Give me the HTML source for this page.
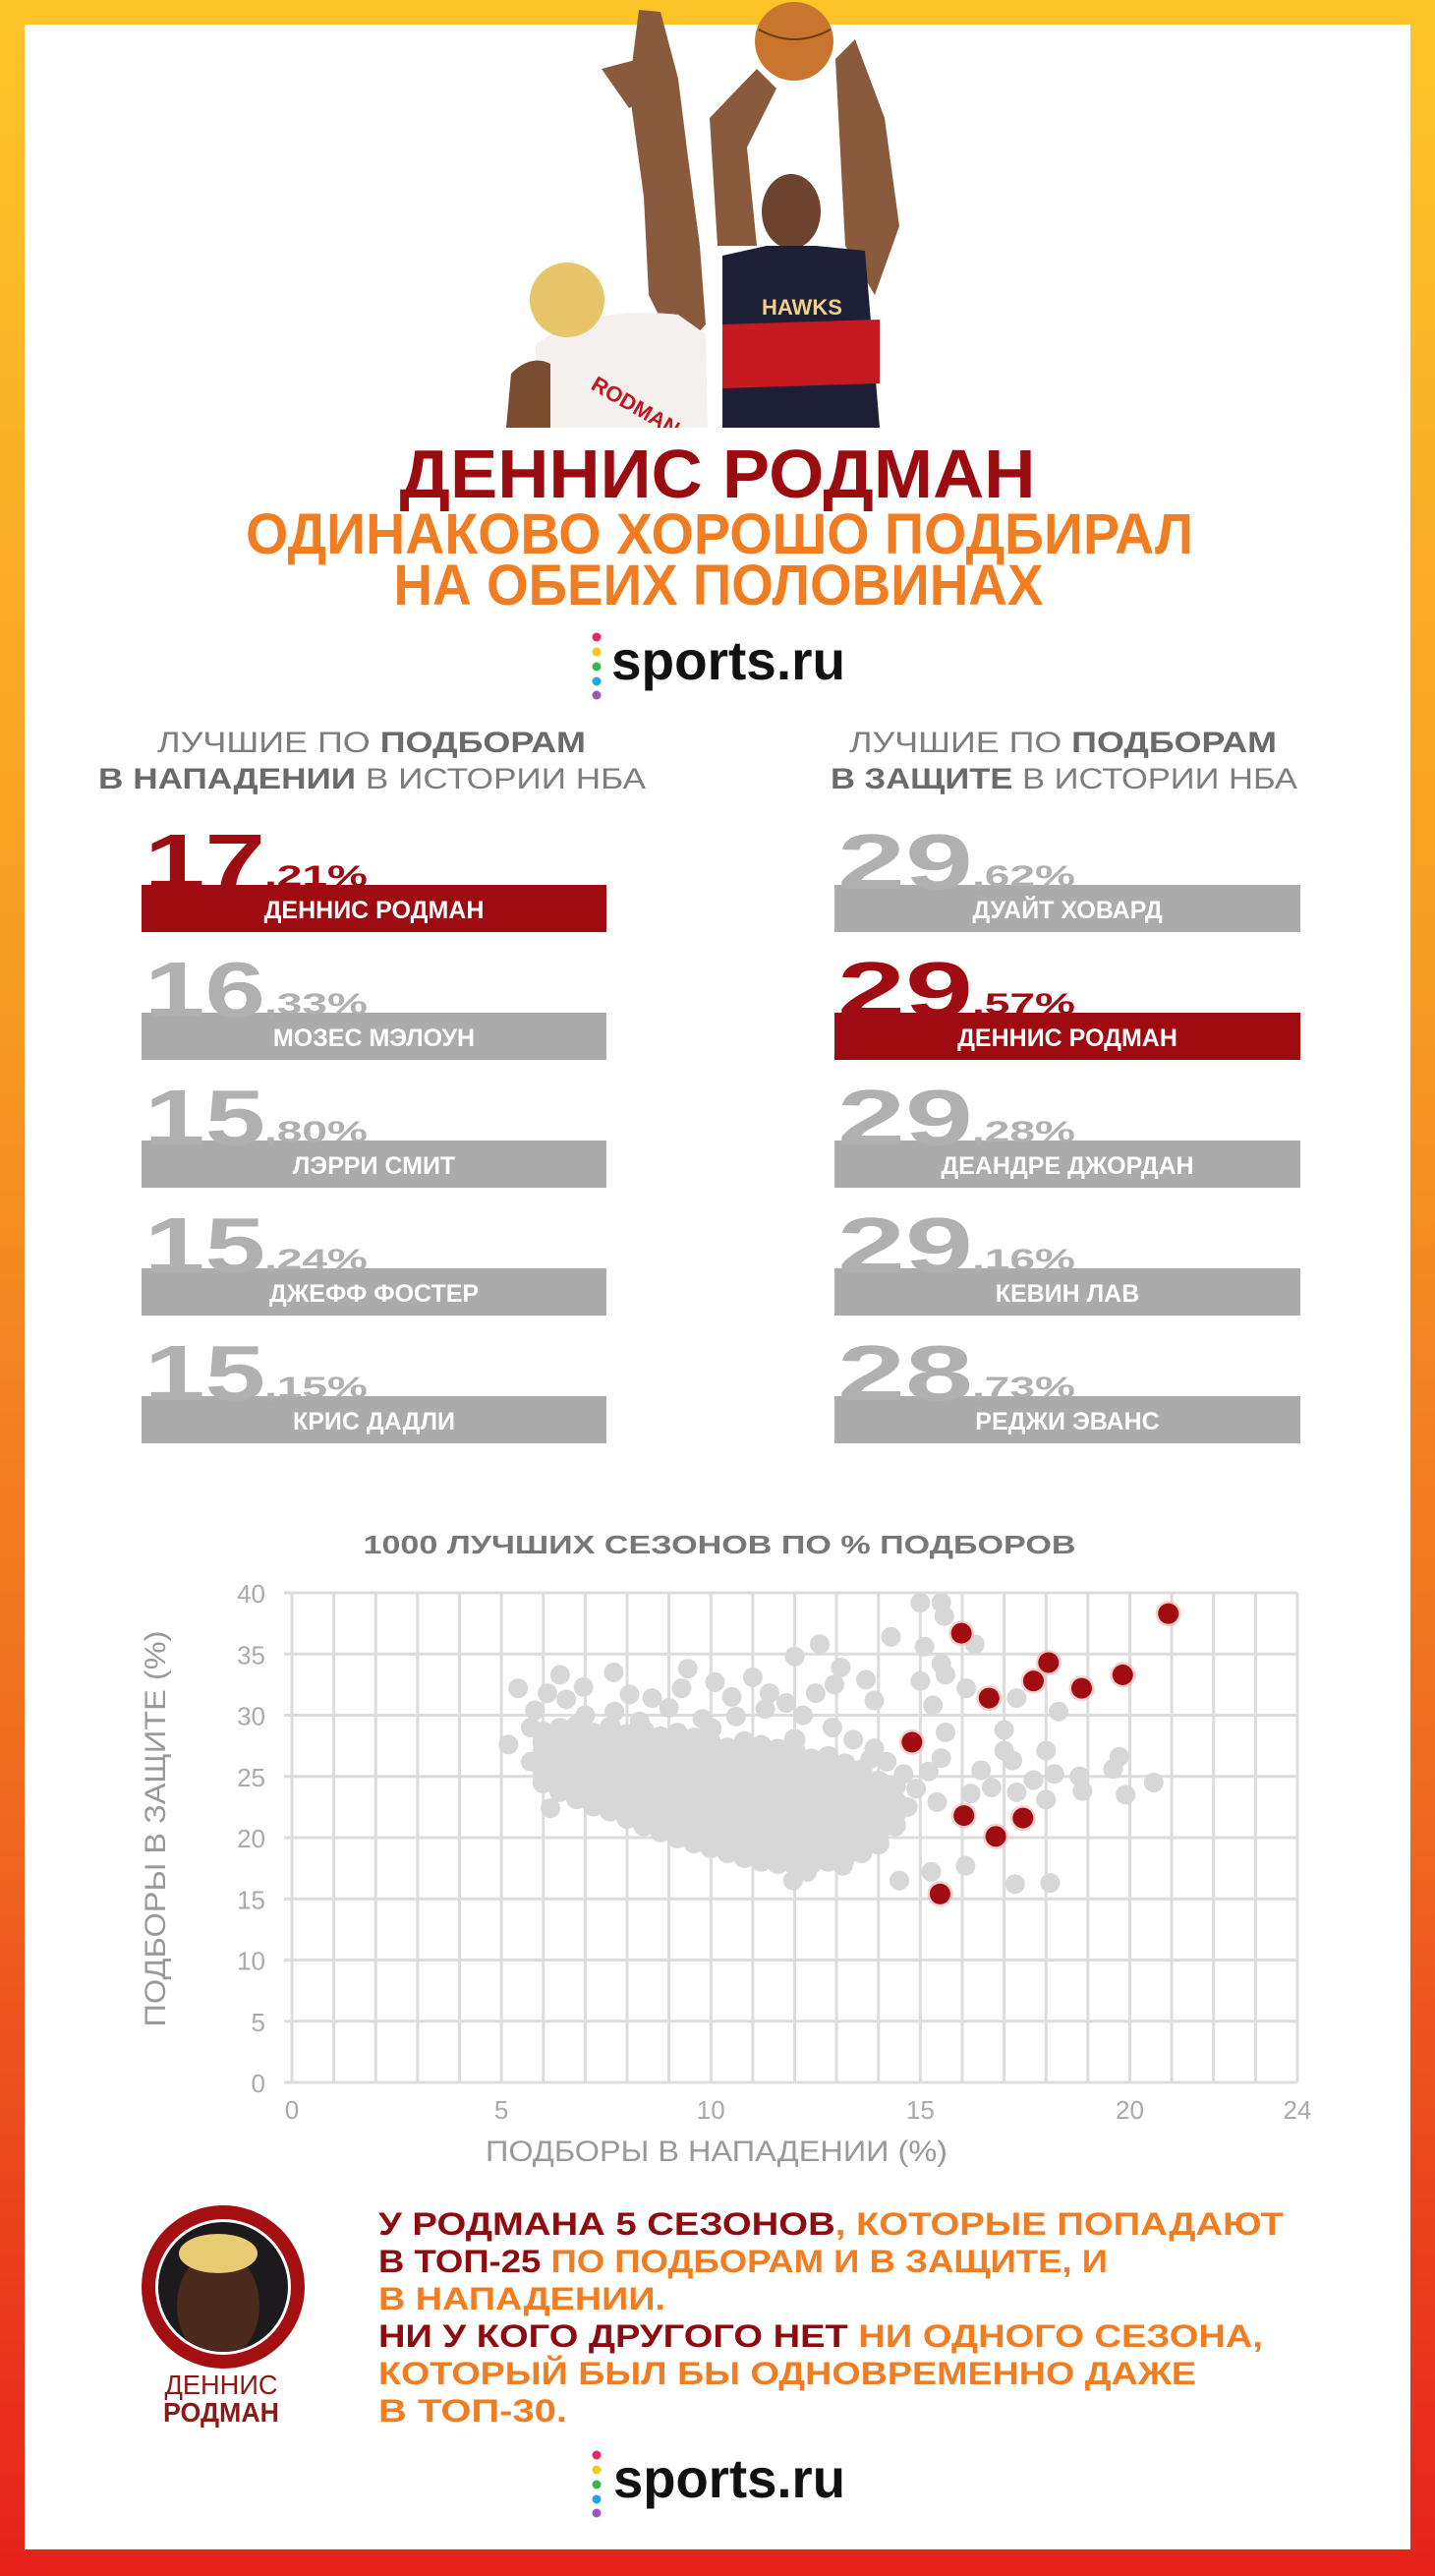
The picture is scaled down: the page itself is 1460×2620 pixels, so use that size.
<!DOCTYPE html>
<html><head><meta charset="utf-8">
<style>
html,body{margin:0;padding:0;background:#fff}
svg{display:block}
text{font-family:"Liberation Sans","DejaVu Sans",sans-serif}
</style></head>
<body>
<svg id="page" width="1460" height="2620" viewBox="0 0 1460 2620" xmlns="http://www.w3.org/2000/svg">
<defs>
<linearGradient id="frame" x1="0" y1="0" x2="0" y2="1">
<stop offset="0" stop-color="#fdc529"/><stop offset="0.35" stop-color="#f7a024"/><stop offset="0.7" stop-color="#ef6a20"/><stop offset="1" stop-color="#e6211b"/>
</linearGradient>
<clipPath id="faceClip"><circle cx="227" cy="2326" r="66"/></clipPath>
<clipPath id="photoClip"><rect x="500" y="0" width="480" height="435"/></clipPath>
</defs>
<rect x="0" y="0" width="1460" height="2620" fill="url(#frame)"/>
<rect x="25" y="25" width="1410" height="2568" fill="#fff"/>

<g clip-path="url(#photoClip)">
<path d="M650 10 L672 12 L690 80 L700 160 L712 250 L718 330 L690 360 L660 300 L655 200 L640 90 Z" fill="#8a5a3c"/>
<path d="M612 70 L650 60 L672 90 L640 110 Z" fill="#8a5a3c"/>
<path d="M545 350 Q600 310 690 320 L718 340 L720 435 L545 435 Z" fill="#f4f0ee"/>
<path d="M520 380 Q540 360 560 370 L560 435 L515 435 Z" fill="#7a4c30"/>
<circle cx="577" cy="305" r="38" fill="#e8c56a"/>
<text x="600" y="395" font-size="22" font-weight="700" fill="#c3151b" transform="rotate(30 600 395)">RODMAN</text>
<path d="M730 250 L722 120 L770 70 L790 90 L760 150 L770 250 Z" fill="#8a5a3c"/>
<path d="M850 60 L870 40 L900 120 L915 230 L890 300 L860 250 Z" fill="#8a5a3c"/>
<circle cx="808" cy="42" r="40" fill="#c8762e"/>
<path d="M772 30 Q808 50 845 30" stroke="#6a3a18" stroke-width="2" fill="none"/>
<ellipse cx="805" cy="215" rx="30" ry="38" fill="#6e4430"/>
<path d="M735 260 L780 250 L830 250 L880 255 L895 435 L735 435 Z" fill="#1d1f36"/>
<path d="M735 330 L895 325 L895 390 L735 395 Z" fill="#c41a20"/>
<text x="775" y="320" font-size="22" font-weight="700" fill="#f2d08a" font-family="Liberation Serif">HAWKS</text>
</g>

<text x="730" y="506" text-anchor="middle" font-size="70" font-weight="700" fill="#9b0c10" textLength="647" lengthAdjust="spacingAndGlyphs">ДЕННИС РОДМАН</text>
<text x="732" y="563" text-anchor="middle" font-size="58" font-weight="700" fill="#f07d22" textLength="964" lengthAdjust="spacingAndGlyphs">ОДИНАКОВО ХОРОШО ПОДБИРАЛ</text>
<text x="731" y="615" text-anchor="middle" font-size="58" font-weight="700" fill="#f07d22" textLength="661" lengthAdjust="spacingAndGlyphs">НА ОБЕИХ ПОЛОВИНАХ</text>

<g>
<circle cx="607" cy="648" r="4.5" fill="#e8246b"/><circle cx="607" cy="663" r="4.5" fill="#f7c81e"/><circle cx="607" cy="678" r="4.5" fill="#3bb54a"/><circle cx="607" cy="693" r="4.5" fill="#1ea7e1"/><circle cx="607" cy="707" r="4.5" fill="#9b59b6"/>
<text x="622" y="691" font-size="56" font-weight="700" fill="#111" textLength="238" lengthAdjust="spacingAndGlyphs">sports.ru</text>
</g>

<g font-size="30" fill="#7d7d7d">
<text x="160" y="765" textLength="436" lengthAdjust="spacingAndGlyphs">ЛУЧШИЕ ПО <tspan font-weight="700" fill="#6a6a6a">ПОДБОРАМ</tspan></text>
<text x="100" y="802" textLength="557" lengthAdjust="spacingAndGlyphs"><tspan font-weight="700" fill="#6a6a6a">В НАПАДЕНИИ</tspan> В ИСТОРИИ НБА</text>
</g>
<g font-size="30" fill="#7d7d7d">
<text x="864" y="765" textLength="435" lengthAdjust="spacingAndGlyphs">ЛУЧШИЕ ПО <tspan font-weight="700" fill="#6a6a6a">ПОДБОРАМ</tspan></text>
<text x="845" y="802" textLength="475" lengthAdjust="spacingAndGlyphs"><tspan font-weight="700" fill="#6a6a6a">В ЗАЩИТЕ</tspan> В ИСТОРИИ НБА</text>
</g>

<g id="rankings"></g>
<g id="chart"></g>

<g>
<circle cx="227" cy="2326" r="76" fill="none" stroke="#a40f12" stroke-width="14"/>
<circle cx="227" cy="2326" r="66" fill="#1c1a1c"/>
<g clip-path="url(#faceClip)">
<ellipse cx="222" cy="2345" rx="42" ry="55" fill="#4a2a1c"/>
<ellipse cx="222" cy="2292" rx="40" ry="20" fill="#e7cc74"/>
</g>
</g>
<text x="225" y="2435" text-anchor="middle" font-size="28" fill="#8a1a1a" textLength="115" lengthAdjust="spacingAndGlyphs">ДЕННИС</text>
<text x="225" y="2463" text-anchor="middle" font-size="28" font-weight="700" fill="#8a1a1a" textLength="118" lengthAdjust="spacingAndGlyphs">РОДМАН</text>

<g font-size="32" font-weight="700" fill="#f07d22">
<text x="385" y="2273" textLength="921" lengthAdjust="spacingAndGlyphs"><tspan fill="#8e0c10">У РОДМАНА 5 СЕЗОНОВ</tspan>, КОТОРЫЕ ПОПАДАЮТ</text>
<text x="385" y="2311" textLength="742" lengthAdjust="spacingAndGlyphs"><tspan fill="#8e0c10">В ТОП-25</tspan> ПО ПОДБОРАМ И В ЗАЩИТЕ, И</text>
<text x="385" y="2349" textLength="292" lengthAdjust="spacingAndGlyphs">В НАПАДЕНИИ.</text>
<text x="385" y="2387" textLength="900" lengthAdjust="spacingAndGlyphs"><tspan fill="#8e0c10">НИ У КОГО ДРУГОГО НЕТ</tspan> НИ ОДНОГО СЕЗОНА,</text>
<text x="385" y="2425" textLength="832" lengthAdjust="spacingAndGlyphs">КОТОРЫЙ БЫЛ БЫ ОДНОВРЕМЕННО ДАЖЕ</text>
<text x="385" y="2463" textLength="192" lengthAdjust="spacingAndGlyphs">В ТОП-30.</text>
</g>

<g>
<circle cx="607" cy="2497" r="4.5" fill="#e8246b"/><circle cx="607" cy="2512" r="4.5" fill="#f7c81e"/><circle cx="607" cy="2527" r="4.5" fill="#3bb54a"/><circle cx="607" cy="2542" r="4.5" fill="#1ea7e1"/><circle cx="607" cy="2556" r="4.5" fill="#9b59b6"/>
<text x="624" y="2540" font-size="56" font-weight="700" fill="#111" textLength="236" lengthAdjust="spacingAndGlyphs">sports.ru</text>
</g>
</svg>
<script>
const NS='http://www.w3.org/2000/svg';
// Rankings data
const offNames=['ДЕННИС РОДМАН','МОЗЕС МЭЛОУН','ЛЭРРИ СМИТ','ДЖЕФФ ФОСТЕР','КРИС ДАДЛИ'];
const offValues=[17.21,16.33,15.80,15.24,15.15];
const defNames=['ДУАЙТ ХОВАРД','ДЕННИС РОДМАН','ДЕАНДРЕ ДЖОРДАН','КЕВИН ЛАВ','РЕДЖИ ЭВАНС'];
const defValues=[29.62,29.57,29.28,29.16,28.73];
// Scatter data: [offensive %, defensive %]
const rodmanSeasons=[[15.98,36.7],[20.92,38.3],[18.06,34.3],[17.7,32.8],[18.85,32.2],[19.83,33.3],[16.64,31.4],[14.8,27.8],[16.04,21.8],[17.45,21.6],[16.8,20.1],[15.47,15.4]];
const grayOutliers=[[15.0,39.2],[15.5,39.2],[15.57,38.1],[14.3,36.4],[15.1,35.6],[16.3,35.8],[12.6,35.8],[12.0,34.8],[9.45,33.8],[7.68,33.5],[6.4,33.3],[5.4,32.2],[6.96,32.3],[6.1,31.8],[6.55,31.3],[5.8,30.4],[5.7,29.0],[5.17,27.6],[5.7,26.2],[6.17,22.4],[8.06,31.7],[8.6,31.4],[9.3,32.2],[10.1,32.7],[11.0,33.1],[10.5,31.5],[11.4,31.8],[13.1,33.9],[13.7,32.9],[12.95,32.5],[13.9,31.2],[15.0,32.8],[15.5,34.2],[15.6,33.3],[16.1,32.2],[15.3,30.8],[17.3,31.4],[18.3,30.3],[15.6,28.6],[17.0,28.8],[17.0,27.1],[17.2,26.3],[18.0,27.1],[15.5,26.5],[16.45,25.5],[17.7,24.7],[18.2,25.2],[18.8,25.0],[18.87,23.8],[19.75,26.6],[19.6,25.6],[19.9,23.5],[20.57,24.5],[18.0,23.1],[17.3,23.7],[16.7,24.1],[16.2,23.6],[15.4,22.9],[16.08,17.7],[15.26,17.2],[14.5,16.5],[17.26,16.2],[18.1,16.3],[11.96,16.5],[12.3,17.2],[13.15,17.7],[7.0,30.0],[7.7,30.3],[8.3,29.5],[9.0,30.6],[9.8,29.7],[10.6,29.9],[11.3,30.5],[12.2,30.0],[12.9,29.0],[13.4,28.0],[13.9,27.3],[14.2,26.2],[11.8,31.0],[12.5,31.8],[14.6,25.2],[14.9,24.0],[15.2,25.4],[14.7,22.5],[13.8,26.4]];
const clusterX=[6.0,6.4,6.8,7.2,7.6,8.0,8.4,8.8,9.2,9.6,10.0,10.4,10.8,11.2,11.6,12.0,12.4,12.8,13.2,13.6,14.0,14.4];
const clusterY=[
[24.5,25.3,26.1,27.0,27.8,28.6],
[23.8,24.6,25.4,26.3,27.1,28.0,28.9],
[23.2,24.0,24.9,25.7,26.6,27.4,28.3,29.1],
[22.6,23.5,24.3,25.2,26.0,26.9,27.7,28.5],
[22.2,23.0,23.9,24.7,25.6,26.4,27.3,28.1,29.0],
[21.6,22.5,23.3,24.2,25.0,25.9,26.7,27.6,28.4],
[21.0,21.9,22.7,23.6,24.4,25.3,26.1,27.0,27.8,28.7],
[20.5,21.4,22.2,23.1,23.9,24.8,25.6,26.5,27.3,28.2],
[20.0,20.9,21.7,22.6,23.4,24.3,25.1,26.0,26.8,27.7,28.5],
[19.6,20.4,21.3,22.1,23.0,23.8,24.7,25.5,26.4,27.2,28.1],
[19.2,20.0,20.9,21.7,22.6,23.4,24.3,25.1,26.0,26.8,27.7,28.9],
[18.8,19.7,20.5,21.4,22.2,23.1,23.9,24.8,25.6,26.5,27.3],
[18.4,19.3,20.1,21.0,21.8,22.7,23.5,24.4,25.2,26.1,26.9,27.8],
[18.1,19.0,19.8,20.7,21.5,22.4,23.2,24.1,24.9,25.8,26.6,27.5],
[17.9,18.7,19.6,20.4,21.3,22.1,23.0,23.8,24.7,25.5,26.4,27.2],
[17.8,18.6,19.5,20.3,21.2,22.0,22.9,23.7,24.6,25.4,26.3,27.1,28.0],
[17.9,18.7,19.6,20.4,21.3,22.1,23.0,23.8,24.7,25.5,26.4],
[18.1,18.9,19.8,20.6,21.5,22.3,23.2,24.0,24.9,25.7,26.6],
[18.4,19.2,20.1,20.9,21.8,22.6,23.5,24.3,25.2,26.0],
[18.8,19.6,20.5,21.3,22.2,23.0,23.9,24.7,25.5],
[19.5,20.3,21.2,22.0,22.9,23.7,24.6],
[21.0,21.9,23.0,24.2]];
const xTicks=[0,5,10,15,20,24];
const yTicks=[0,5,10,15,20,25,30,35,40];
const xGridLines=[0,1,2,3,4,5,6,7,8,9,10,11,12,13,14,15,16,17,18,19,20,21,22,23,24];

function mk(tag,attrs,parent){const e=document.createElementNS(NS,tag);for(const k in attrs)e.setAttribute(k,attrs[k]);parent.appendChild(e);return e;}

// Rankings
const rk=document.getElementById('rankings');
function drawRow(x0,x1,top,name,val,hi,side,i){
  const g=mk('g',{},rk);
  
  
  const col=hi?'#9e0b10':'#ababab';
  const ncol=hi?'#9e0b10':'#b0b0b0';
  mk('rect',{x:x0,y:top,width:x1-x0,height:48,fill:col},g);
  const ip=Math.floor(val);
  const dec=','+Math.round((val-ip)*100).toString().padStart(2,'0')+'%';
  const t=mk('text',{x:x0+3,y:top+4,'font-size':80,'font-weight':700,fill:ncol,textLength:ip>=20?138:123,lengthAdjust:'spacingAndGlyphs'},g);
  t.textContent=ip;
  const d=mk('text',{x:x0+(ip>=20?140:125),y:top+1,'font-size':30,'font-weight':700,fill:ncol,textLength:105,lengthAdjust:'spacingAndGlyphs'},g);
  d.textContent=dec;
  const n=mk('text',{x:(x0+x1)/2,y:top+34,'text-anchor':'middle','font-size':25,'font-weight':700,fill:'#fff'},g);
  n.textContent=name;
}
offNames.forEach((n,i)=>drawRow(144,617,900+i*130,n,offValues[i],i===0,'offense',i));
defNames.forEach((n,i)=>drawRow(849,1323,900+i*130,n,defValues[i],i===1,'defense',i));

// Chart
const ch=document.getElementById('chart');
const X0=297,X1=1320,Y0=2118,Y1=1620;
const sx=v=>X0+(X1-X0)*v/24;
const sy=v=>Y0-(Y0-Y1)*v/40;
const title=mk('text',{x:732,y:1580,'text-anchor':'middle','font-size':26,'font-weight':700,fill:'#777',textLength:725,lengthAdjust:'spacingAndGlyphs'},ch);
title.textContent='1000 ЛУЧШИХ СЕЗОНОВ ПО % ПОДБОРОВ';


const grid=mk('g',{stroke:'#dcdcdc','stroke-width':3},ch);


xGridLines.forEach(v=>mk('line',{x1:sx(v),x2:sx(v),y1:sy(40),y2:sy(0)},grid));
yTicks.forEach(v=>mk('line',{x1:sx(0)-8,x2:sx(24),y1:sy(v),y2:sy(v)},grid));
yTicks.forEach(v=>{const t=mk('text',{x:270,y:sy(v)+10,'text-anchor':'end','font-size':26,fill:'#aaa'},ch);t.textContent=v;

});
xTicks.forEach(v=>{const t=mk('text',{x:sx(v),y:2155,'text-anchor':'middle','font-size':26,fill:'#aaa'},ch);t.textContent=v;

});
const yt=mk('text',{x:0,y:0,'text-anchor':'middle','font-size':30,fill:'#999',transform:'translate(168 1860) rotate(-90)',textLength:403,lengthAdjust:'spacingAndGlyphs'},ch);
yt.textContent='ПОДБОРЫ В ЗАЩИТЕ (%)';


const xt=mk('text',{x:729,y:2198,'text-anchor':'middle','font-size':30,fill:'#999',textLength:470,lengthAdjust:'spacingAndGlyphs'},ch);
xt.textContent='ПОДБОРЫ В НАПАДЕНИИ (%)';


const gg=mk('g',{fill:'#d7d7d7'},ch);


clusterX.forEach((x,i)=>clusterY[i].forEach(y=>{const c=mk('circle',{cx:sx(x),cy:sy(y),r:11},gg);

}));
grayOutliers.forEach(p=>{const c=mk('circle',{cx:sx(p[0]),cy:sy(p[1]),r:10},gg);

});
const rg=mk('g',{},ch);


rodmanSeasons.forEach(p=>{mk('circle',{cx:sx(p[0]),cy:sy(p[1]),r:13,fill:'#f2b0b0',opacity:0.6},rg);
const c=mk('circle',{cx:sx(p[0]),cy:sy(p[1]),r:10.5,fill:'#a00d10'},rg);

});
</script>
</body></html>
